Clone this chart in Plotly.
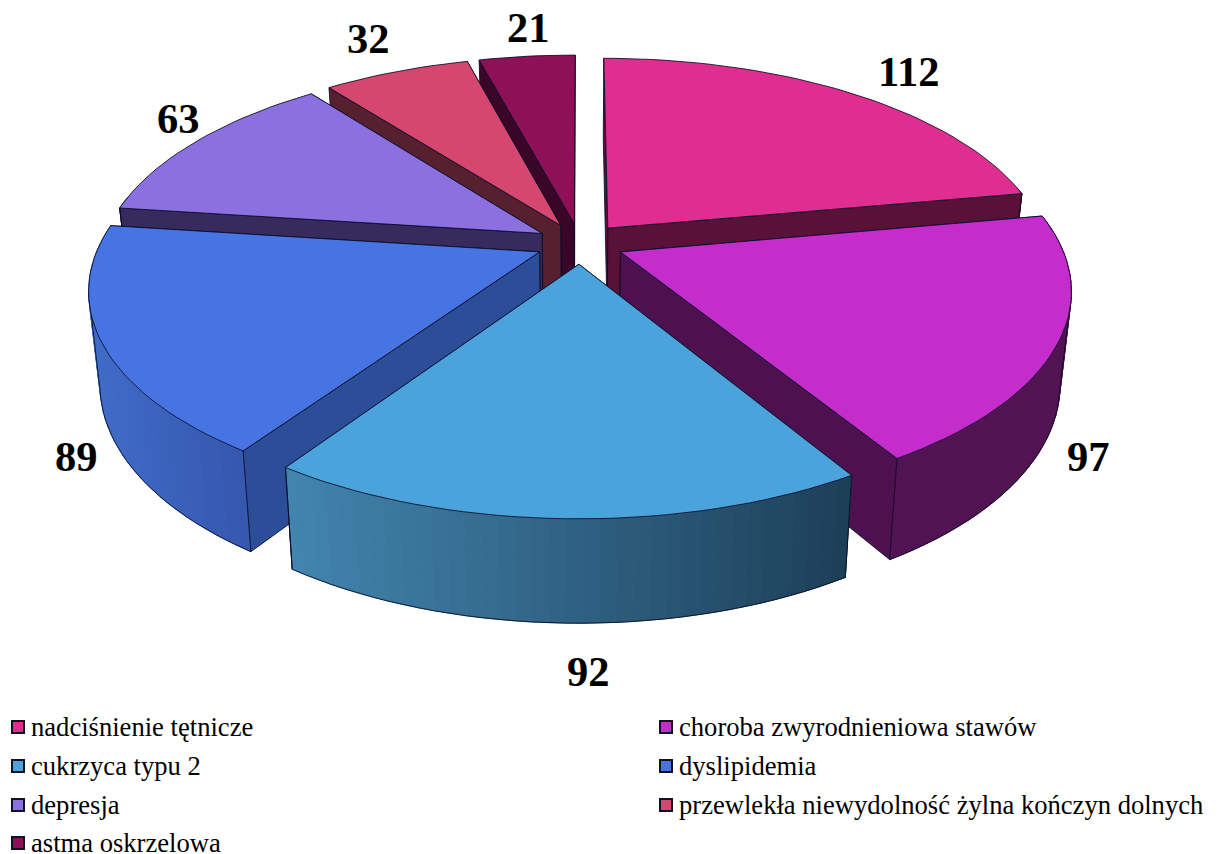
import math
import plotly.graph_objects as go

categories = ["nadciśnienie tętnicze", "choroba zwyrodnieniowa stawów", "cukrzyca typu 2",
              "dyslipidemia", "depresja", "przewlekła niewydolność żylna kończyn dolnych", "astma oskrzelowa"]
values = [112, 97, 92, 89, 63, 32, 21]
top_colors = ["#E02E90", "#C42DCB", "#4BA3DB", "#4674E2", "#8B70E0", "#D6476F", "#8E1158"]
radial_colors = ["#5A1138", "#4E114F", "#2C5A7A", "#2C4E98", "#362B5C", "#57202F", "#3A0628"]
arc_left = ["#5A1138", "#521352", "#4285AE", "#3F6CC8", "#362B5C", "#57202F", "#3A0628"]
arc_right = ["#5A1138", "#521352", "#1D3F58", "#3657AE", "#362B5C", "#57202F", "#3A0628"]
draw_order = [6, 5, 4, 0, 3, 1, 2]
label_pos = [(908, 71), (1088, 456), (588, 671), (76, 456), (178, 118), (368, 38), (528, 27)]

CX, CY, RX, RY, P, H, TAPER, EXPL = 580, 243.5, 440, 203.5, 0.17, 90, 0.023, 0.10
EDGE = "rgba(10,10,40,0.85)"


def project(x, y, z=0.0):
    s = 1 / (1 + P * y)
    t = 1 - TAPER * z
    return CX + RX * x * s * t, CY + (-RY * y * s) * t + H * z * s


def hexrgb(c):
    return [int(c[i:i + 2], 16) for i in (1, 3, 5)]


def mix(a, b, f):
    ca, cb = hexrgb(a), hexrgb(b)
    return "rgb(%d,%d,%d)" % tuple(round(ca[i] + (cb[i] - ca[i]) * f) for i in range(3))


fig = go.Figure()


def poly(pts, fill, line=None, width=1.0):
    xs = [p[0] for p in pts] + [pts[0][0]]
    ys = [p[1] for p in pts] + [pts[0][1]]
    fig.add_trace(go.Scatter(x=xs, y=ys, mode="lines", fill="toself", fillcolor=fill,
                             line=dict(color=line or fill, width=width),
                             hoverinfo="skip", showlegend=False))


def path(pts):
    fig.add_trace(go.Scatter(x=[p[0] for p in pts], y=[p[1] for p in pts], mode="lines",
                             line=dict(color=EDGE, width=1), hoverinfo="skip", showlegend=False))


total = sum(values)
starts, acc = [], 0
for v in values:
    starts.append(acc / total * 2 * math.pi)
    acc += v

for i in draw_order:
    a0 = starts[i]
    a1 = a0 + values[i] / total * 2 * math.pi
    mid = (a0 + a1) / 2
    ox, oy = EXPL * math.sin(mid), EXPL * math.cos(mid)
    n = max(4, int(values[i] / 2.5))
    ang = [a0 + (a1 - a0) * k / n for k in range(n + 1)]
    rim = [(ox + math.sin(a), oy + math.cos(a)) for a in ang]
    # radial walls, farther wall first; the top and the outer wall cover what should not show
    for (rx, ry) in sorted((rim[0], rim[-1]), key=lambda r: -r[1]):
        poly([project(ox, oy), project(rx, ry), project(rx, ry, 1), project(ox, oy, 1)],
             radial_colors[i], EDGE)
    front = [k for k, a in enumerate(ang) if math.cos(a) < 0.22]
    if front:
        xs = [project(*rim[k])[0] for k in front]
        lo, hi = min(xs), max(xs)
        for k in front[:-1]:
            f = ((project(*rim[k])[0] + project(*rim[k + 1])[0]) / 2 - lo) / max(hi - lo, 1)
            col = mix(arc_left[i], arc_right[i], f)
            poly([project(*rim[k]), project(*rim[k + 1]), project(*rim[k + 1], 1), project(*rim[k], 1)], col)
        # bottom edge only from the silhouette towards the viewer
        lower = [project(*rim[k], 1) for k in front]
        ext = max(range(len(lower)), key=lambda q: abs(lower[q][0] - CX))
        upper = [project(*rim[k]) for k in front]
        ext_u = max(range(len(upper)), key=lambda q: abs(upper[q][0] - CX))
        if lower[ext][0] > CX:
            path([upper[ext_u]] + lower[ext:])
        else:
            path([upper[ext_u]] + lower[ext::-1])
        for k in (front[0], front[-1]):
            if k in (0, n):
                path([project(*rim[k]), project(*rim[k], 1)])
    poly([project(ox, oy)] + [project(*r) for r in rim], top_colors[i], EDGE)

annotations = []
for v, (lx, ly) in zip(values, label_pos):
    annotations.append(dict(x=lx, y=ly, text=str(v), showarrow=False, xanchor="center", yanchor="middle",
                            font=dict(family="Liberation Serif", size=42.5, color="black", weight="bold")))

for i, name in enumerate(categories):
    col = i % 2
    row = i // 2
    mx = 18 + col * 648
    my = 727 + row * 39 - (1 if row == 3 else 0)
    fig.add_trace(go.Scatter(x=[mx], y=[my], mode="markers", name=name, hoverinfo="name", showlegend=False,
                             marker=dict(symbol="square", size=12, color=top_colors[i],
                                         line=dict(color="#111122", width=2))))
    annotations.append(dict(x=mx + 11, y=my, text=name, showarrow=False,
                            xanchor="left", yanchor="middle",
                            font=dict(family="Liberation Serif", size=26.6, color="black")))

fig.update_layout(width=1221, height=854, margin=dict(l=0, r=0, t=0, b=0), paper_bgcolor="white",
                  plot_bgcolor="white", showlegend=False, annotations=annotations,
                  xaxis=dict(range=[0, 1221], visible=False, fixedrange=True),
                  yaxis=dict(range=[854, 0], visible=False, fixedrange=True))
fig.write_html("out.html", config=dict(displayModeBar=False),
               post_script="document.body.style.margin='0';document.body.style.overflow='hidden';")
